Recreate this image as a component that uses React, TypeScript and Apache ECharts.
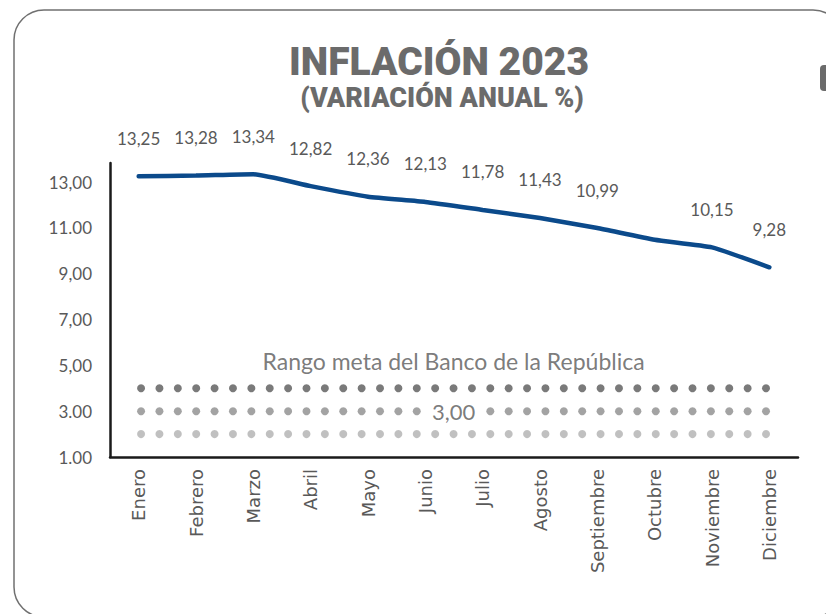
import React, { useEffect, useRef } from "react";
import * as echarts from "echarts";

const months = ["Enero", "Febrero", "Marzo", "Abril", "Mayo", "Junio", "Julio", "Agosto", "Septiembre", "Octubre", "Noviembre", "Diciembre"];
const inflation = [13.25, 13.28, 13.34, 12.82, 12.36, 12.13, 11.78, 11.43, 10.99, 10.48, 10.15, 9.28];
const pointLabels = ["13,25", "13,28", "13,34", "12,82", "12,36", "12,13", "11,78", "11,43", "10,99", "", "10,15", "9,28"];
const yTickLabels: Record<number, string> = { 13: "13,00", 11: "11.00", 9: "9,00", 7: "7,00", 5: "5,00", 3: "3.00", 1: "1.00" };
const targetUpper = 4;
const targetCenter = 3;
const targetLower = 2;
const dotSlots = 35;
const centerGapSlots = [16, 17, 18];
const labelSlot = 17;
const targetTitleLevel = 5;
const targetTitle = "Rango meta del Banco de la República";
const targetCenterLabel = "3,00";
const title = "INFLACIÓN 2023";
const subtitle = "(VARIACIÓN ANUAL %)";

const slots = Array.from({ length: dotSlots }, (_, i) => i);

export default function App() {
  const ref = useRef<HTMLDivElement>(null);
  useEffect(() => {
    if (!ref.current) return;
    const chart = echarts.init(ref.current, null, { renderer: "svg" });
    const textColor = "#595959";
    const dotSeries = (level: number, color: string, skip: number[]) => ({
      type: "scatter",
      xAxisIndex: 1,
      yAxisIndex: 0,
      symbol: "circle",
      symbolSize: 8,
      itemStyle: { color },
      silent: true,
      z: 2,
      data: slots.filter((i) => !skip.includes(i)).map((i) => [i, level]),
    });
    chart.setOption({
      animation: false,
      backgroundColor: "#ffffff",
      textStyle: { fontFamily: "Lato" },
      graphic: [
        {
          type: "rect",
          shape: { x: 14, y: 10, width: 829, height: 607, r: 30 },
          style: { fill: "none", stroke: "#707070", lineWidth: 1.5 },
          z: 0,
        },
        {
          type: "rect",
          shape: { x: 820, y: 65, width: 12, height: 26, r: 4 },
          style: { fill: "#6b6b6b" },
        },
        {
          type: "text",
          x: 439,
          y: 62,
          style: { text: title, fontFamily: "Roboto", fontWeight: 900, fontSize: 39, fill: "#6b6b6b", align: "center", verticalAlign: "middle" },
        },
        {
          type: "text",
          x: 442,
          y: 98,
          style: { text: subtitle, fontFamily: "Roboto", fontWeight: 900, fontSize: 27, fill: "#6b6b6b", align: "center", verticalAlign: "middle" },
        },
      ],
      grid: { left: 110, right: 28, top: 163, bottom: 157, containLabel: false },
      xAxis: [
        {
          type: "category",
          data: months,
          boundaryGap: true,
          position: "bottom",
          axisLine: { show: true, onZero: false, lineStyle: { color: "#1a1a1a", width: 2.5 } },
          axisTick: { show: false },
          axisLabel: { rotate: 90, fontSize: 18, color: textColor, margin: 12, fontFamily: "DejaVu Sans", interval: 0 },
          splitLine: { show: false },
        },
        {
          type: "value",
          min: -1.69,
          max: 35.74,
          show: false,
          axisLine: { onZero: false },
        },
      ],
      yAxis: {
        type: "value",
        min: 1,
        max: 13.83,
        interval: 1,
        axisLine: { show: true, onZero: false, lineStyle: { color: "#1a1a1a", width: 2.5 } },
        axisTick: { show: false },
        splitLine: { show: false },
        axisLabel: {
          fontSize: 17,
          color: textColor,
          margin: 18,
          showMaxLabel: false,
          formatter: (v: number) => yTickLabels[Math.round(v)] && Math.abs(v - Math.round(v)) < 1e-6 ? yTickLabels[Math.round(v)] : "",
        },
      },
      series: [
        {
          type: "line",
          data: inflation.map((v, i) => ({
            value: v,
            label: { show: pointLabels[i] !== "", formatter: pointLabels[i] },
          })),
          smooth: 0.15,
          showSymbol: true,
          symbol: "circle",
          symbolSize: 1,
          itemStyle: { color: "rgba(0,0,0,0)" },
          lineStyle: { color: "#0b4a8b", width: 4.5, cap: "round" },
          label: { show: true, position: "top", distance: 29, fontSize: 17, color: textColor },
          z: 5,
        },
        dotSeries(targetUpper, "#595959", []),
        dotSeries(targetCenter, "#8c8c8c", centerGapSlots),
        dotSeries(targetLower, "#b0b0b0", []),
        {
          type: "scatter",
          xAxisIndex: 1,
          yAxisIndex: 0,
          symbolSize: 0,
          silent: true,
          data: [
            { value: [labelSlot, targetTitleLevel], label: { show: true, position: "inside", formatter: targetTitle, fontSize: 23, color: textColor, offset: [0, -4] } },
            { value: [labelSlot, targetCenter], label: { show: true, position: "inside", formatter: targetCenterLabel, fontSize: 22, color: textColor } },
          ],
          z: 6,
        },
      ],
    });
    return () => chart.dispose();
  }, []);
  return <div ref={ref} style={{ position: "fixed", left: 0, top: 0, width: 826, height: 614 }} />;
}
